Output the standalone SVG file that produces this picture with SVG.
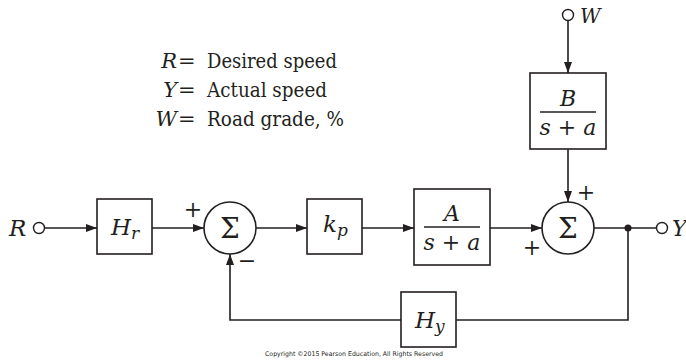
<svg xmlns="http://www.w3.org/2000/svg" width="686" height="361" viewBox="0 0 686 361">
<style>
.blk{fill:#fff;stroke:#231f20;stroke-width:1.6}
.ln{fill:none;stroke:#231f20;stroke-width:1.6}
.pt{fill:#fff;stroke:#231f20;stroke-width:1.4}
</style>
<defs>
<marker id="ah" markerWidth="11" markerHeight="8" refX="11" refY="4" orient="auto" markerUnits="userSpaceOnUse">
<path d="M0,0 L11,4 L0,8 Z" fill="#231f20"/>
</marker>
</defs>
<g font-family="'DejaVu Serif', 'Liberation Serif', serif" fill="#231f20">
<g id="legend">
<text font-style="italic" x="177" y="68" font-size="21" text-anchor="end">R</text>
<text x="178" y="68" font-size="21">=</text>
<text x="207" y="68" font-size="21" textLength="130" lengthAdjust="spacingAndGlyphs">Desired speed</text>
<text font-style="italic" x="177" y="97" font-size="21" text-anchor="end">Y</text>
<text x="178" y="97" font-size="21">=</text>
<text x="207" y="97" font-size="21" textLength="120" lengthAdjust="spacingAndGlyphs">Actual speed</text>
<text font-style="italic" x="177" y="126" font-size="21" text-anchor="end">W</text>
<text x="178" y="126" font-size="21">=</text>
<text x="207" y="126" font-size="21" textLength="137" lengthAdjust="spacingAndGlyphs">Road grade, %</text>
</g>
<g id="connectors">
<line class="ln" x1="44" y1="228" x2="97" y2="228" marker-end="url(#ah)"/>
<line class="ln" x1="152" y1="228" x2="204" y2="228" marker-end="url(#ah)"/>
<line class="ln" x1="256" y1="228" x2="307" y2="228" marker-end="url(#ah)"/>
<line class="ln" x1="362" y1="228" x2="414" y2="228" marker-end="url(#ah)"/>
<line class="ln" x1="490" y1="228" x2="542" y2="228" marker-end="url(#ah)"/>
<line class="ln" x1="594" y1="228" x2="657" y2="228"/>
<line class="ln" x1="568" y1="20" x2="568" y2="73" marker-end="url(#ah)"/>
<line class="ln" x1="568" y1="149" x2="568" y2="202" marker-end="url(#ah)"/>
<polyline class="ln" points="628,228 628,320 456,320"/>
<polyline class="ln" points="401,320 230,320 230,254" marker-end="url(#ah)"/>
<circle cx="628" cy="228" r="3.5" fill="#231f20"/>
</g>
<g id="inR">
<circle class="pt" cx="39" cy="228" r="5.5"/>
<text font-style="italic" x="9" y="236" font-size="23">R</text>
</g>
<g id="inW">
<circle class="pt" cx="568" cy="15" r="5.5"/>
<text font-style="italic" x="580" y="23" font-size="20">W</text>
</g>
<g id="outY">
<circle class="pt" cx="662" cy="228" r="5.5"/>
<text font-style="italic" x="672" y="236" font-size="22">Y</text>
</g>
<g id="Hr">
<rect class="blk" x="97" y="199" width="55" height="55"/>
<text font-style="italic" x="111" y="235" font-size="23">H<tspan font-size="17" dy="4">r</tspan></text>
</g>
<g id="sum1">
<circle class="blk" cx="230" cy="228" r="26"/>
<text x="230" y="238" font-size="28" text-anchor="middle">Σ</text>
<text x="193" y="217" font-size="22" text-anchor="middle">+</text>
<text x="247" y="268" font-size="22" text-anchor="middle">−</text>
</g>
<g id="kp">
<rect class="blk" x="307" y="199" width="55" height="55"/>
<text font-style="italic" x="323" y="232" font-size="23">k<tspan font-size="17" dy="4">p</tspan></text>
</g>
<g id="plantA">
<rect class="blk" x="414" y="189" width="76" height="76"/>
<text font-style="italic" x="452" y="221" font-size="22" text-anchor="middle">A</text>
<line class="ln" x1="424" y1="227" x2="480" y2="227"/>
<text font-style="italic" x="452" y="250" font-size="22" text-anchor="middle">s<tspan font-style="normal"> + </tspan>a</text>
</g>
<g id="plantB">
<rect class="blk" x="530" y="73" width="76" height="76"/>
<text font-style="italic" x="568" y="106" font-size="22" text-anchor="middle">B</text>
<line class="ln" x1="540" y1="112" x2="596" y2="112"/>
<text font-style="italic" x="568" y="135" font-size="22" text-anchor="middle">s<tspan font-style="normal"> + </tspan>a</text>
</g>
<g id="sum2">
<circle class="blk" cx="568" cy="228" r="26"/>
<text x="568" y="238" font-size="28" text-anchor="middle">Σ</text>
<text x="586" y="200" font-size="22" text-anchor="middle">+</text>
<text x="532" y="255" font-size="22" text-anchor="middle">+</text>
</g>
<g id="Hy">
<rect class="blk" x="401" y="292" width="55" height="55"/>
<text font-style="italic" x="415" y="328" font-size="23">H<tspan font-size="17" dy="4">y</tspan></text>
</g>
<text font-family="'DejaVu Sans', sans-serif" font-size="6.4" x="265" y="356" textLength="178" lengthAdjust="spacingAndGlyphs">Copyright ©2015 Pearson Education, All Rights Reserved</text>
</g>
</svg>
